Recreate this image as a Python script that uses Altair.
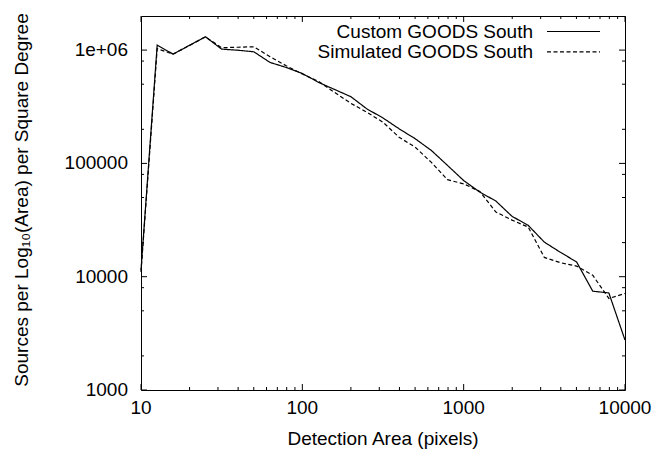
import altair as alt
import pandas as pd

# Source counts per log10(area) per square degree, binned in detection area
area = [10, 12.6, 15.8, 25.1, 31.6, 39.8, 50.1, 63.1, 79.4, 100,
        126, 158, 200, 251, 316, 398, 501, 631, 794, 1000,
        1259, 1585, 1995, 2512, 3162, 3981, 5012, 6310, 7943, 10000]
custom = [11400, 1107000, 922000, 1310000, 1020000, 998000, 966000, 778000, 703000, 622000,
          519000, 450000, 388000, 303000, 252000, 202000, 165000, 130000, 96000, 70600,
          55800, 46500, 34100, 28400, 20200, 16400, 13500, 7450, 7190, 2760]
simulated = [11000, 1030000, 920000, 1310000, 1050000, 1060000, 1070000, 873000, 728000, 615000,
             530000, 424000, 339000, 283000, 231000, 170000, 139000, 102000, 71800, 66000,
             56600, 37200, 31600, 27400, 14800, 13300, 12400, 10300, 6430, 7110]
series_names = ["Custom GOODS South", "Simulated GOODS South"]

x_major = [10, 100, 1000, 10000]
x_labels = ["10", "100", "1000", "10000"]
x_minor = [m * d for d in (10, 100, 1000) for m in range(2, 10)]
y_major = [1000, 10000, 100000, 1000000]
y_labels = ["1000", "10000", "100000", "1e+06"]
y_minor = [m * d for d in (1000, 10000, 100000, 1000000) for m in (2, 5, 8) if m * d < 2000000]

x_title = "Detection Area (pixels)"
y_title = "Sources per Log₁₀(Area) per Square Degree"

FONT = "Liberation Sans"
FS = 19
W, H = 484, 374
DASH = [4, 2.5]

rows = []
for name, vals in zip(series_names, (custom, simulated)):
    for a, v in zip(area, vals):
        rows.append({"area": a, "density": v, "series": name})
df = pd.DataFrame(rows)

xscale = alt.Scale(type="log", domain=[10, 10000], nice=False)
yscale = alt.Scale(type="log", domain=[1000, 2000000], nice=False)

lines = alt.Chart(df).mark_line(color="black", strokeWidth=1.2).encode(
    x=alt.X("area:Q", scale=xscale, axis=None),
    y=alt.Y("density:Q", scale=yscale, axis=None),
    strokeDash=alt.StrokeDash("series:N",
                              scale=alt.Scale(domain=series_names, range=[[1, 0], DASH]),
                              legend=None),
    detail="series:N",
)

# inward tick marks on all four sides
xmaj = pd.DataFrame({"v": x_major, "label": x_labels})
xmin = pd.DataFrame({"v": x_minor})
ymaj = pd.DataFrame({"v": y_major, "label": y_labels})
ymin = pd.DataFrame({"v": y_minor})


def xticks(data, length):
    bottom = alt.Chart(data).mark_rule(color="black", strokeWidth=1).encode(
        x=alt.X("v:Q", scale=xscale, axis=None), y=alt.value(H), y2=alt.value(H - length))
    top = alt.Chart(data).mark_rule(color="black", strokeWidth=1).encode(
        x=alt.X("v:Q", scale=xscale, axis=None), y=alt.value(0), y2=alt.value(length))
    return [bottom, top]


def yticks(data, length):
    left = alt.Chart(data).mark_rule(color="black", strokeWidth=1).encode(
        y=alt.Y("v:Q", scale=yscale, axis=None), x=alt.value(0), x2=alt.value(length))
    right = alt.Chart(data).mark_rule(color="black", strokeWidth=1).encode(
        y=alt.Y("v:Q", scale=yscale, axis=None), x=alt.value(W), x2=alt.value(W - length))
    return [left, right]


ticks = xticks(xmaj, 6) + xticks(xmin, 3) + yticks(ymaj, 6) + yticks(ymin, 3)

# tick labels placed through the same scales
xlab = alt.Chart(xmaj).mark_text(baseline="alphabetic", align="center", font=FONT,
                                 fontSize=FS, color="black").encode(
    x=alt.X("v:Q", scale=xscale, axis=None), y=alt.value(H + 24), text="label:N")
ylab = alt.Chart(ymaj).mark_text(baseline="middle", align="right", font=FONT,
                                 fontSize=FS, color="black").encode(
    y=alt.Y("v:Q", scale=yscale, axis=None), x=alt.value(-13), text="label:N")

# axis titles
xt = alt.Chart(pd.DataFrame({"t": [x_title]})).mark_text(
    baseline="alphabetic", align="center", font=FONT, fontSize=FS, color="black").encode(
    x=alt.value(W / 2), y=alt.value(429), text="t:N")
yt = alt.Chart(pd.DataFrame({"t": [y_title]})).mark_text(
    baseline="middle", align="center", angle=270, font=FONT, fontSize=FS, color="black").encode(
    x=alt.value(-119), y=alt.value(184), text="t:N")

# key in the upper right: label followed by line sample
key = []
for i, name in enumerate(series_names):
    lab = pd.DataFrame({"label": [name]})
    key.append(alt.Chart(lab).mark_text(align="right", baseline="alphabetic", font=FONT,
                                        fontSize=FS, color="black").encode(
        text="label:N", x=alt.value(392), y=alt.value(22.3 + 20 * i)))
    key.append(alt.Chart(lab).mark_rule(color="black", strokeWidth=1.2,
                                        strokeDash=[1, 0] if i == 0 else DASH).encode(
        x=alt.value(406), x2=alt.value(459), y=alt.value(15.5 + 20.3 * i)))

chart = alt.layer(lines, *ticks, xlab, ylab, xt, yt, *key).properties(
    width=W, height=H,
    autosize=alt.AutoSizeParams(type="none"),
    padding={"left": 141, "top": 16, "right": 46, "bottom": 62},
    background="white",
).configure_view(stroke="black", strokeWidth=1)

chart.save("out.html", embed_options={"renderer": "svg", "actions": False})
